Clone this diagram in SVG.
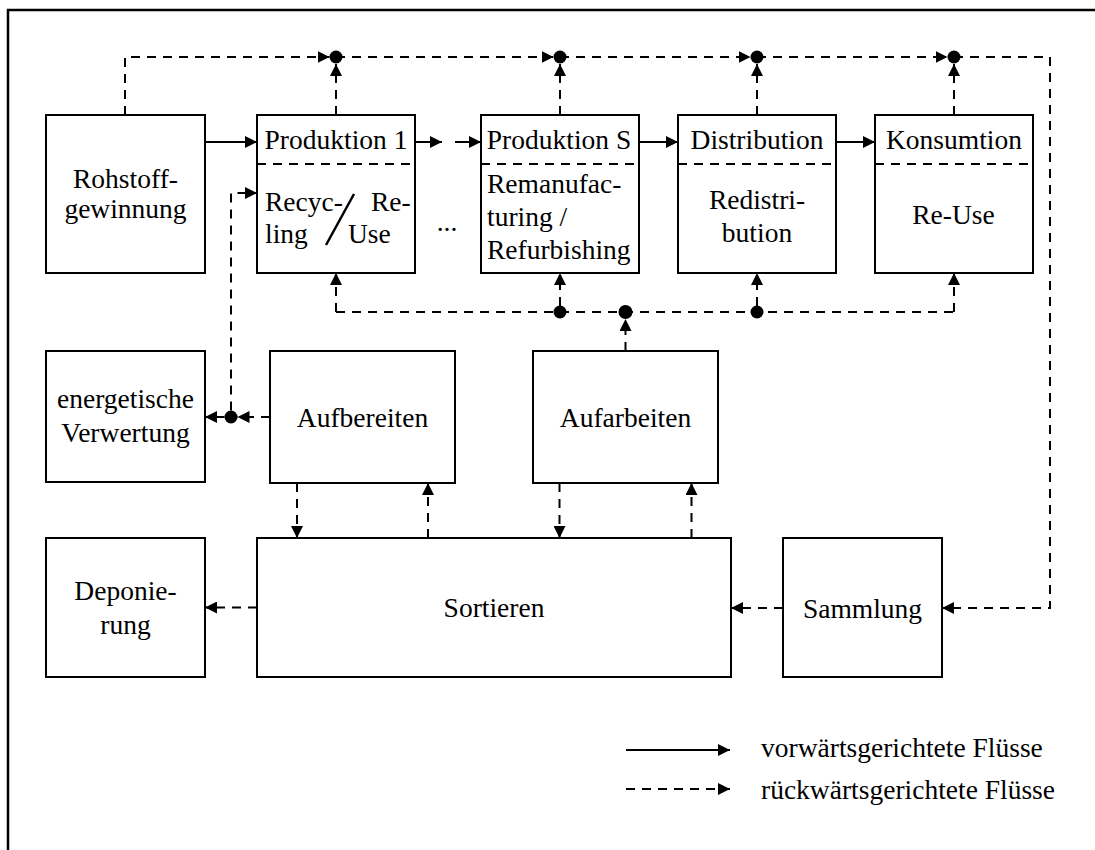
<svg xmlns="http://www.w3.org/2000/svg" width="1095" height="850" viewBox="0 0 1095 850">
  <defs>
    <marker id="arrow" viewBox="0 0 12 12" refX="12" refY="6" markerWidth="12" markerHeight="12" markerUnits="userSpaceOnUse" orient="auto">
      <path d="M0,0 L12,6 L0,12 z" fill="#000" stroke="none"/>
    </marker>
  </defs>
  <style>
    .box { fill: #fff; stroke: #000; stroke-width: 2; }
    .div { fill: none; stroke: #000; stroke-width: 2; stroke-dasharray: 9 7; }
    .fwd { fill: none; stroke: #000; stroke-width: 2; marker-end: url(#arrow); }
    .back { fill: none; stroke: #000; stroke-width: 2; stroke-dasharray: 9 7; }
    .backa { fill: none; stroke: #000; stroke-width: 2; stroke-dasharray: 9 7; marker-end: url(#arrow); }
    .dot { fill: #000; }
    text { font-family: "Liberation Serif", "Times New Roman", serif; font-size: 27.5px; fill: #000; }
    .c { text-anchor: middle; }
  </style>

  <rect width="1095" height="850" fill="#fff"/>
  <!-- frame -->
  <path d="M8,850 V10 H1095" fill="none" stroke="#000" stroke-width="2.5"/>

  <!-- nodes -->
  <g id="rohstoffgewinnung">
    <rect class="box" x="46" y="115" width="159" height="158"/>
    <text class="c" x="125.5" y="188">Rohstoff-</text>
    <text class="c" x="125.5" y="218">gewinnung</text>
  </g>
  <g id="produktion1">
    <rect class="box" x="257" y="115" width="158" height="158"/>
    <line class="div" x1="257" y1="164" x2="415" y2="164"/>
    <text class="c" x="336" y="149">Produktion 1</text>
    <text x="265" y="211">Recyc-</text>
    <text x="371" y="211">Re-</text>
    <text x="265" y="243">ling</text>
    <text x="348" y="243">Use</text>
    <line x1="326" y1="245" x2="354" y2="194" stroke="#000" stroke-width="2.5"/>
  </g>
  <text id="ellipsis" class="c" x="447" y="231">...</text>
  <g id="produktionS">
    <rect class="box" x="481" y="115" width="158" height="158"/>
    <line class="div" x1="481" y1="164" x2="639" y2="164"/>
    <text class="c" x="559" y="149">Produktion S</text>
    <text x="487" y="193">Remanufac-</text>
    <text x="487" y="226">turing /</text>
    <text x="487" y="259">Refurbishing</text>
  </g>
  <g id="distribution">
    <rect class="box" x="678" y="115" width="158" height="158"/>
    <line class="div" x1="678" y1="164" x2="836" y2="164"/>
    <text class="c" x="757" y="149">Distribution</text>
    <text class="c" x="757" y="209">Redistri-</text>
    <text class="c" x="757" y="242">bution</text>
  </g>
  <g id="konsumtion">
    <rect class="box" x="875" y="115" width="158" height="158"/>
    <line class="div" x1="875" y1="164" x2="1033" y2="164"/>
    <text class="c" x="954" y="149">Konsumtion</text>
    <text class="c" x="953.5" y="224">Re-Use</text>
  </g>
  <g id="energetische-verwertung">
    <rect class="box" x="46" y="351" width="159" height="131"/>
    <text class="c" x="125.5" y="408">energetische</text>
    <text class="c" x="125.5" y="442">Verwertung</text>
  </g>
  <g id="aufbereiten">
    <rect class="box" x="270" y="351" width="185" height="132"/>
    <text class="c" x="362.5" y="427">Aufbereiten</text>
  </g>
  <g id="aufarbeiten">
    <rect class="box" x="533" y="351" width="185" height="132"/>
    <text class="c" x="625.5" y="427">Aufarbeiten</text>
  </g>
  <g id="deponierung">
    <rect class="box" x="46" y="538" width="159" height="139"/>
    <text class="c" x="125.5" y="600">Deponie-</text>
    <text class="c" x="125.5" y="634">rung</text>
  </g>
  <g id="sortieren">
    <rect class="box" x="257" y="538" width="474" height="139"/>
    <text class="c" x="494" y="617">Sortieren</text>
  </g>
  <g id="sammlung">
    <rect class="box" x="783" y="538" width="159" height="139"/>
    <text class="c" x="862.5" y="618">Sammlung</text>
  </g>

  <!-- connectors -->
  <g id="connectors">
    <!-- forward flows -->
    <path class="fwd" d="M205,142 H257"/>
    <path class="fwd" d="M415,142 H442"/>
    <path class="fwd" d="M455,142 H481"/>
    <path class="fwd" d="M639,142 H678"/>
    <path class="fwd" d="M836,142 H875"/>

    <!-- upper return line -->
    <path class="backa" d="M125,115 V57 H329.5"/>
    <path class="backa" d="M336,57 H553.5"/>
    <path class="backa" d="M560,57 H750.5"/>
    <path class="backa" d="M757,57 H947.5"/>
    <path class="backa" d="M954,57 H1050 V608 H942"/>
    <path class="backa" d="M336,115 V64"/>
    <path class="backa" d="M560,115 V64"/>
    <path class="backa" d="M757,115 V64"/>
    <path class="backa" d="M954,115 V64"/>

    <!-- lower distribution line -->
    <path class="back" d="M336,312 H954"/>
    <path class="backa" d="M336,312 V273"/>
    <path class="backa" d="M560,306 V273"/>
    <path class="backa" d="M757,306 V273"/>
    <path class="backa" d="M954,312 V273"/>
    <path class="backa" d="M625.5,351 V319"/>

    <!-- Aufbereiten outputs -->
    <path class="backa" d="M270,417 H237.5"/>
    <path class="backa" d="M224.5,417 H205"/>
    <path class="backa" d="M231,410.5 V193 H257"/>

    <!-- exchange with Sortieren -->
    <path class="backa" d="M297,483 V538"/>
    <path class="backa" d="M428,538 V483"/>
    <path class="backa" d="M559.5,483 V538"/>
    <path class="backa" d="M691.5,538 V483"/>
    <path class="backa" d="M783,608 H731"/>
    <path class="backa" d="M257,607.5 H205"/>

    <!-- junctions -->
    <circle class="dot" cx="336" cy="57" r="6.5"/>
    <circle class="dot" cx="560" cy="57" r="6.5"/>
    <circle class="dot" cx="757" cy="57" r="6.5"/>
    <circle class="dot" cx="954" cy="57" r="6.5"/>
    <circle class="dot" cx="560" cy="312" r="6.5"/>
    <circle class="dot" cx="625.5" cy="312" r="7"/>
    <circle class="dot" cx="757" cy="312" r="6.5"/>
    <circle class="dot" cx="231" cy="417" r="6.5"/>
  </g>

  <!-- legend -->
  <g id="legend">
    <path class="fwd" d="M626,750 H730"/>
    <path class="backa" d="M626,789 H730"/>
    <text x="761" y="757">vorwärtsgerichtete Flüsse</text>
    <text x="761" y="799">rückwärtsgerichtete Flüsse</text>
  </g>
</svg>
